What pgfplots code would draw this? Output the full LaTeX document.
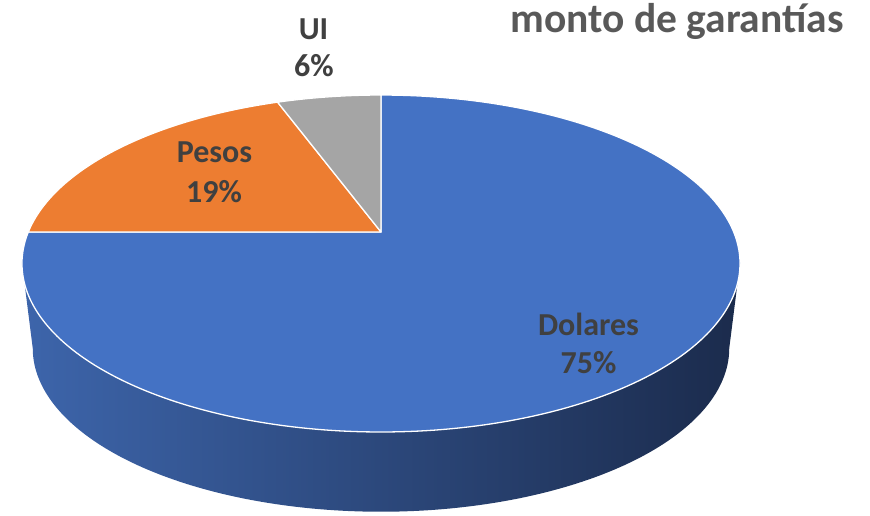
\documentclass[border=0pt]{standalone}
\usepackage{fontspec}
\setmainfont{Carlito}
\usepackage{pgfplots}
\pgfplotsset{compat=1.18}
\usepackage{pgfplotstable}
\definecolor{cBlue}{HTML}{4472C4}
\definecolor{cOrange}{HTML}{ED7D31}
\definecolor{cGray}{HTML}{A5A5A5}
\definecolor{sideL}{HTML}{3D65AB}
\definecolor{sideM}{HTML}{2A4A80}
\definecolor{sideR}{HTML}{1B2B4C}
\definecolor{lab}{HTML}{404040}
\definecolor{tit}{HTML}{595959}
\tikzset{lblfont/.style={font=\fontsize{32}{38}\selectfont\bfseries, text=lab, anchor=base, inner sep=0pt}}

\pgfplotstableread{
label value
Dolares 75
Pesos 19.4
UI 5.6
}\piedata
\pgfplotstablegetelem{0}{value}\of\piedata\let\vD\pgfplotsretval
\pgfplotstablegetelem{1}{value}\of\piedata\let\vP\pgfplotsretval
\pgfplotstablegetelem{2}{value}\of\piedata\let\vU\pgfplotsretval
\pgfmathsetmacro\tot{\vD+\vP+\vU}
\pgfmathsetmacro\aD{90-360*(\vD/\tot)}
\pgfmathsetmacro\aP{\aD-360*(\vP/\tot)}
\pgfmathsetmacro\aU{\aP-360*(\vU/\tot)}

\begin{document}
\begin{tikzpicture}
\begin{axis}[
  scale only axis, width=870pt, height=516pt,
  xmin=0, xmax=870, ymin=0, ymax=516, y dir=reverse,
  hide axis, clip=false,
  declare function={
    PX(\t)=381+352.7*cos(\t)/(1+0.187*sin(\t));
    PY(\t)=232-162.6*sin(\t)/(1+0.187*sin(\t));
    BX(\t)=381+0.97*(PX(\t)-381);
    BY(\t)=3090+0.97*(PY(\t)-3090);
  },
]
\path (rel axis cs:0,0) rectangle (rel axis cs:1,1);
% side of the pie
\addplot[draw=none, left color=sideL, middle color=sideM, right color=sideR,
  domain=190.78:349.22, samples=160]
  ({BX(x)},{BY(x)}) -- (axis cs:740,263.5) -- (axis cs:22,263.5) -- cycle;
% top face slices
\addplot[fill=cBlue, draw=white, line width=1.3pt, line join=round, domain=\aD:90, samples=240]
  ({PX(x)},{PY(x)}) -- (axis cs:381,232) -- cycle;
\addplot[fill=cOrange, draw=white, line width=1.3pt, line join=round, domain=\aP:\aD, samples=80]
  ({PX(x)},{PY(x)}) -- (axis cs:381,232) -- cycle;
\addplot[fill=cGray, draw=white, line width=1.3pt, line join=round, domain=\aU:\aP, samples=30]
  ({PX(x)},{PY(x)}) -- (axis cs:381,232) -- cycle;
% labels
\node[lblfont] at (axis cs:313.5,40) {UI};
\node[lblfont] at (axis cs:314,77) {6\%};
\node[lblfont] at (axis cs:214.5,163) {Pesos};
\node[lblfont] at (axis cs:214,202) {19\%};
\node[lblfont] at (axis cs:588.5,335) {Dolares};
\node[lblfont] at (axis cs:588.5,373) {75\%};
\node[font=\fontsize{41.5}{48}\selectfont\bfseries, text=tit, anchor=base, inner sep=0pt]
  at (axis cs:677,33) {monto de garantías};
\end{axis}
\end{tikzpicture}
\end{document}
